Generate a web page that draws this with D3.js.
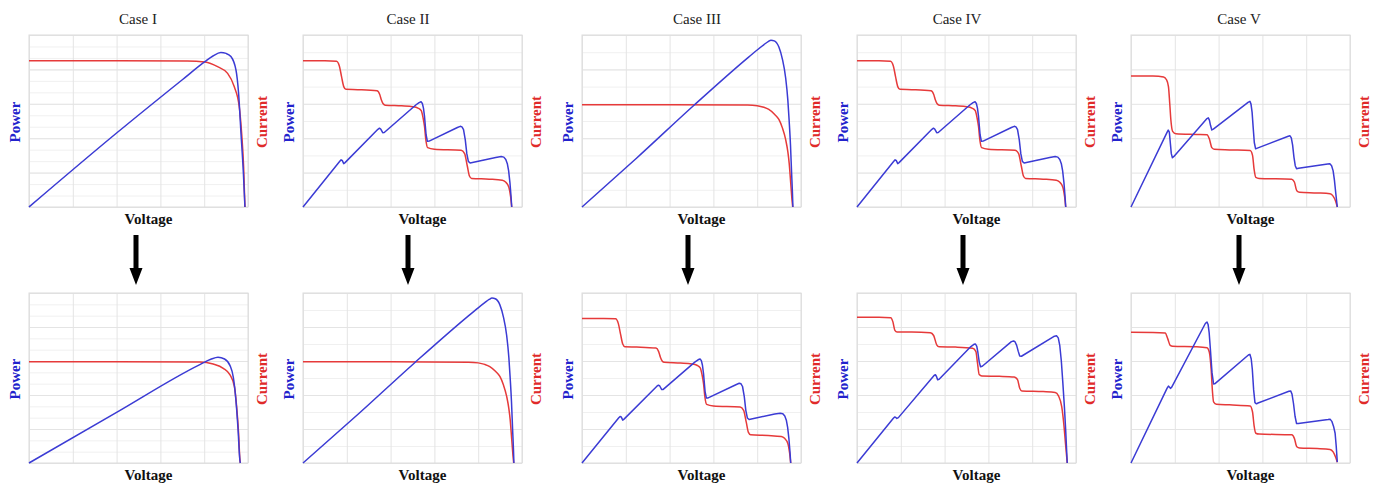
<!DOCTYPE html>
<html>
<head>
<meta charset="utf-8">
<script src="https://cdn.jsdelivr.net/npm/d3@7"></script>
<style>
  body { margin: 0; background: #fff; }
  svg { display: block; }
  text { font-family: "Liberation Serif", "Times New Roman", serif; }
</style>
</head>
<body>
<svg id="fig" width="1376" height="488"></svg>
<script>
// ---- Data: [voltage %, value %] pairs, voltage and both y axes normalised to 0..100 ----
const caseNames = ["Case I", "Case II", "Case III", "Case IV", "Case V"];
const axisLabels = { x: "Voltage", power: "Power", current: "Current" };

// Case I, before: uniform irradiance
const case1BeforeCurrent = [[0,85],[40,85],[72.3,84.9],[80.3,84.3],[86.1,81.6],[90.7,77.7],[93.7,70],[96,58.3],[97.1,42.8],[98,23.4],[98.6,0]];
const case1BeforePower = [[0,0],[40,43],[70,74],[80.3,84.5],[84,87.8],[87.6,89.8],[90,89.3],[92.2,87.5],[94.5,79.7],[95.7,66.1],[96.8,42.8],[97.9,19.6],[98.6,0]];
// Case I, after
const case1AfterCurrent = [[0,59.6],[40,59.6],[78,59.4],[84.1,58.2],[88.7,55.7],[91.8,51.8],[93.8,45],[94.8,33.3],[95.7,17.6],[96.3,2],[96.5,0]];
const case1AfterPower = [[0,0],[40,29.8],[78,57.9],[83,61],[86.3,62.2],[89.3,61.2],[91.8,57.3],[93.3,50.4],[94.5,36.7],[95.4,21],[96.3,1.6],[96.5,0]];

// Uniform curve with the higher peak (Case II after, Case III before)
const uniformCurrent = [[0,59.5],[40,59.5],[75.6,59.3],[80,58.9],[83,58],[85.3,56.7],[88,53.8],[89.9,50.9],[91.5,46],[93,39.2],[94,32],[94.6,25.5],[95.3,14],[95.9,4],[96.2,0]];
const uniformPower = [[0,0],[25,28.5],[51,59],[75,86],[80,91.3],[83,94.3],[85,96.2],[86.3,97],[87.8,96.6],[89.9,93],[91.5,86],[93,75],[94,62],[94.6,50],[95.2,36],[95.7,20],[96.1,8],[96.3,0]];

// Five-step partial shading curve (Case II before, Case IV before, Case III after)
const shadedCurrent = [[0,85],[10,85],[15.3,84.8],[16.6,82],[17.6,75.8],[18.6,70],[19.6,68.4],[25,68.2],[33.8,67.6],[35,65.5],[35.8,62.2],[36.6,60],[37.6,59.2],[45,58.8],[50.2,58.3],[52.5,57.5],[54,56],[54.8,52],[55.5,46.7],[56.1,39],[56.9,34.5],[60,33.6],[72.2,33],[73.8,31],[75,24],[76,18],[77,16.6],[85,16.2],[91,15.6],[92.5,14.5],[94,11.5],[94.8,6],[95.3,0]];
const shadedPower = [[0,0],[16.8,26.6],[17.4,27.4],[17.9,27.1],[18.6,25.2],[19.2,25.8],[34.2,45.2],[34.9,45.8],[35.5,45.3],[36.4,43.2],[37.1,43.3],[51.5,59.3],[53,60.7],[53.9,61.2],[54.5,60.2],[55,57.5],[55.5,52.5],[56.2,42],[56.8,38.2],[57.6,38.3],[70.5,46.2],[71.8,46.9],[72.6,46.6],[73.3,45],[74.1,39],[74.8,31],[75.5,26.5],[76.3,25.6],[88,28.8],[90.5,29.3],[91.7,29],[92.6,27.6],[93.3,25.2],[93.9,21],[94.5,14],[95,6],[95.3,0]];

// Case IV, after
const case4AfterCurrent = [[0,85.8],[10,85.8],[15.4,85.5],[16.4,83],[17.3,78],[18.3,77],[25,77],[33.5,76.6],[35,75],[36.4,69.5],[37.5,68.4],[45,68.2],[52.8,67.5],[54.3,65.5],[55,59],[55.8,52],[57,51.2],[65,51],[71.8,50.6],[73.3,49],[74.3,44],[75.3,42.4],[85,42],[90.5,41.5],[92,39.5],[93.5,33],[94.5,22],[95.3,10],[96,0]];
const case4AfterPower = [[0,0],[16.6,26.3],[17.2,27.1],[17.7,26.8],[18.2,26.2],[18.9,26.7],[35.2,51.5],[35.8,51.9],[36.3,50.9],[36.8,49],[37.5,49.3],[52,68.5],[53.4,69.8],[54.1,70],[54.7,68.6],[55.2,65],[55.8,59.5],[56.4,56.6],[57.2,56.9],[70.5,71.4],[71.5,71.8],[72.2,71.2],[72.9,69.2],[73.6,65.8],[74.3,63],[75.1,62.8],[89.8,74.4],[91.1,74.8],[91.9,73.6],[92.6,69],[93.3,60],[94,47],[94.7,33],[95.3,19],[95.7,8],[96,0]];

// Case V, before
const case5BeforeCurrent = [[0,76.2],[10,76.1],[14.9,75.6],[16.2,74],[17.1,70],[17.7,60],[18.2,50.7],[19,44],[20.5,42.6],[30,42.2],[34.7,42],[35.8,39.5],[36.9,34.5],[38,33.6],[45,33.2],[54.4,32.8],[55.5,30],[56.2,22],[57,17.2],[58.5,16.6],[73.4,16.2],[74.6,14.5],[75.7,9.5],[77,8.6],[85,8.2],[90.9,7.7],[92.2,6.5],[93.4,3.5],[94.2,0]];
const case5BeforePower = [[0,0],[16.4,43.2],[17,44.7],[17.5,43.5],[17.9,38],[18.4,31],[18.9,28.6],[19.6,29.4],[34.5,51.2],[35.3,51.8],[35.8,50.5],[36.3,47.5],[36.9,44.8],[37.6,45.3],[53.6,61],[54.3,61.4],[54.8,59.8],[55.3,55],[55.8,46],[56.3,37.5],[56.9,33.8],[57.7,34.2],[71.8,41.1],[72.6,41.4],[73.2,40.2],[73.8,36],[74.4,29],[75,24],[75.6,22.2],[76.5,22.5],[89.8,25],[90.8,25.1],[91.6,24],[92.3,21],[92.9,15.5],[93.5,8],[94.2,0]];
// Case V, after
const case5AfterCurrent = [[0,76.9],[10,76.8],[15.6,76.4],[16.8,73],[17.9,69.2],[19,68.7],[30,68.4],[34.7,67.8],[35.8,65],[36.6,55],[37.2,42],[37.7,36],[39,34.6],[45,34.2],[54.4,33.6],[55.5,30],[56.2,22],[57,17.5],[58.5,17],[73.4,16.6],[74.6,14.5],[75.7,9.6],[77,8.8],[85,8.5],[90.9,8],[92.3,6.5],[93.4,3.5],[94.2,0.5]];
const case5AfterPower = [[0,0],[16.5,44],[17.1,45.2],[17.6,44.6],[18,43.9],[18.6,44.6],[34,82.2],[34.7,82.9],[35.2,81.5],[35.7,76.5],[36.3,66],[37,53],[37.7,46.5],[38.5,46.8],[53.6,63.5],[54.3,63.9],[54.9,61.2],[55.4,55],[56,43],[56.6,35.5],[57.3,34.8],[58,35.3],[72.1,42.2],[72.9,42.4],[73.5,40.6],[74.2,35],[74.9,27.5],[75.6,23.2],[76.4,23.2],[90,25.6],[90.9,25.8],[91.7,24.5],[92.5,21.5],[93.2,17.5],[93.7,10],[94.2,0.5]];

const beforeRow = [
  { current: case1BeforeCurrent, power: case1BeforePower, smooth: true },
  { current: shadedCurrent, power: shadedPower, smooth: false },
  { current: uniformCurrent, power: uniformPower, smooth: true },
  { current: shadedCurrent, power: shadedPower, smooth: false },
  { current: case5BeforeCurrent, power: case5BeforePower, smooth: false }
];
const afterRow = [
  { current: case1AfterCurrent, power: case1AfterPower, smooth: true },
  { current: uniformCurrent, power: uniformPower, smooth: true },
  { current: shadedCurrent, power: shadedPower, smooth: false },
  { current: case4AfterCurrent, power: case4AfterPower, smooth: false },
  { current: case5AfterCurrent, power: case5AfterPower, smooth: false }
];

// ---- Layout ----
const colLeft = [29, 303, 582, 857, 1131];
const plotW = 219;
const rowTop = [35, 293];
const rowH = [172, 170];
const titleX = [138, 408, 697, 957, 1239];
const arrowX = [136, 408, 688, 963, 1239];
// number of fine horizontal grid divisions per panel (0 = major lines only)
const minorDivs = [[15, 10, 10, 10, 0], [15, 10, 10, 10, 0]];

const blue = "#3b3bd4", red = "#e63a3a";
const svg = d3.select("#fig");

const x = d3.scaleLinear().domain([0, 100]).range([0, plotW]);

function drawPanel(row, col, d) {
  const h = rowH[row];
  const g = svg.append("g").attr("transform", `translate(${colLeft[col]},${rowTop[row]})`);
  const yP = d3.scaleLinear().domain([0, 100]).range([h, 0]);
  const yI = d3.scaleLinear().domain([0, 100]).range([h, 0]);

  const nMinor = minorDivs[row][col];
  if (nMinor > 0) {
    g.append("g")
      .call(d3.axisLeft(yP).tickValues(d3.range(0, 100.01, 100 / nMinor)).tickSize(-plotW).tickFormat(""))
      .call(s => s.select(".domain").remove())
      .call(s => s.selectAll("line").attr("stroke", "#f0f0f0"));
  }
  g.append("g")
    .call(d3.axisLeft(yP).tickValues(d3.range(0, 101, 20)).tickSize(-plotW).tickFormat(""))
    .call(s => s.select(".domain").remove())
    .call(s => s.selectAll("line").attr("stroke", "#e4e4e4"));
  g.append("g").attr("transform", `translate(0,${h})`)
    .call(d3.axisBottom(x).tickValues(d3.range(0, 101, 20)).tickSize(-h).tickFormat(""))
    .call(s => s.select(".domain").remove())
    .call(s => s.selectAll("line").attr("stroke", "#e4e4e4"));
  g.append("rect").attr("width", plotW).attr("height", h)
    .attr("fill", "none").attr("stroke", "#dcdcdc");

  const lineI = d3.line().x(p => x(p[0])).y(p => yI(p[1])).curve(d3.curveMonotoneX);
  const lineP = d3.line().x(p => x(p[0])).y(p => yP(p[1]))
    .curve(d.smooth ? d3.curveMonotoneX : d3.curveLinear);
  g.append("path").attr("d", lineI(d.current)).attr("fill", "none")
    .attr("stroke", red).attr("stroke-width", 1.5);
  g.append("path").attr("d", lineP(d.power)).attr("fill", "none")
    .attr("stroke", blue).attr("stroke-width", 1.5).attr("stroke-linejoin", "round");

  const cy = h / 2 + 1;
  g.append("text").attr("transform", `translate(-14,${cy}) rotate(-90)`)
    .attr("dy", "0.35em").attr("text-anchor", "middle")
    .attr("font-size", 15).attr("font-weight", "bold").attr("fill", "#2222cc")
    .text(axisLabels.power);
  g.append("text").attr("transform", `translate(${plotW + 14},${cy}) rotate(-90)`)
    .attr("dy", "0.35em").attr("text-anchor", "middle")
    .attr("font-size", 15).attr("font-weight", "bold").attr("fill", "#e02a2a")
    .text(axisLabels.current);
  g.append("text").attr("x", plotW / 2 + 10).attr("y", h + 17)
    .attr("text-anchor", "middle").attr("font-size", 15).attr("font-weight", "bold")
    .attr("fill", "#111").text(axisLabels.x);
}

beforeRow.forEach((d, i) => drawPanel(0, i, d));
afterRow.forEach((d, i) => drawPanel(1, i, d));

// case titles
svg.selectAll("text.title").data(caseNames).enter().append("text")
  .attr("class", "title").attr("x", (d, i) => titleX[i]).attr("y", 24)
  .attr("text-anchor", "middle").attr("font-size", 15).attr("fill", "#222")
  .text(d => d);

// downward arrows between the rows
svg.selectAll("path.arrow").data(arrowX).enter().append("path")
  .attr("class", "arrow")
  .attr("d", cx => `M${cx - 2.5},235 L${cx + 2.5},235 L${cx + 2.5},268 L${cx + 6.5},268 L${cx},285 L${cx - 6.5},268 L${cx - 2.5},268 Z`)
  .attr("fill", "#000");
</script>
</body>
</html>
